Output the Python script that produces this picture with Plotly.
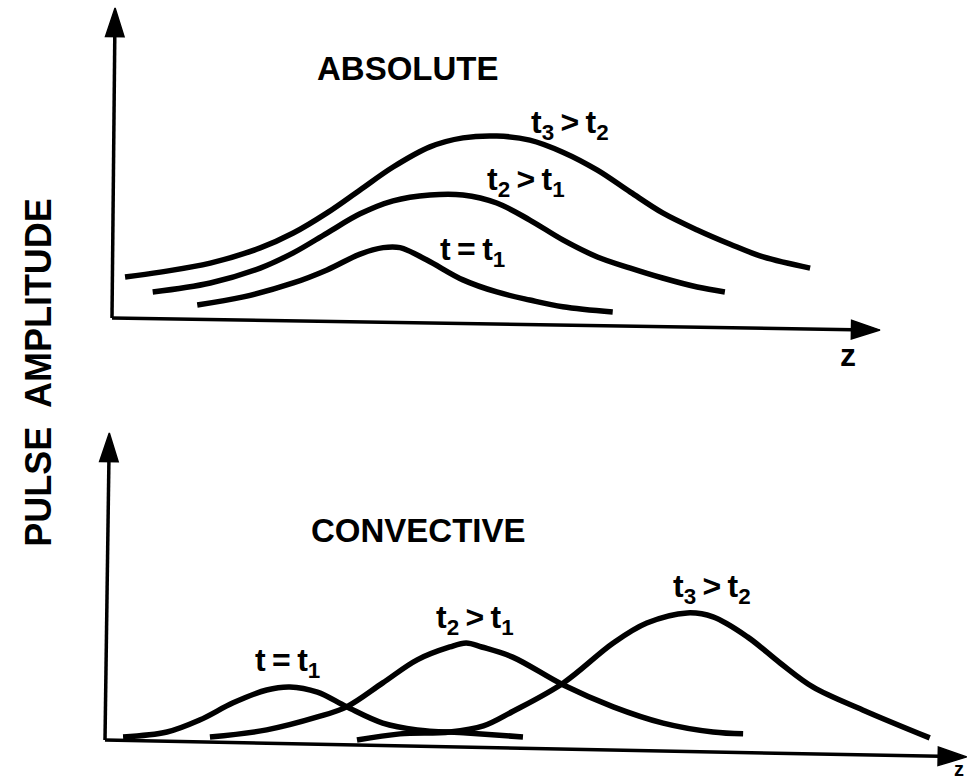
import plotly.graph_objects as go

# ---------------- data: pulse envelopes (z, amplitude) ----------------
# Absolute instability: pulse grows and spreads in both directions
abs_t1_z = [1.11, 1.71, 2.36, 2.80, 3.23, 3.53, 3.75, 4.10, 4.57, 5.01, 5.44, 5.87, 6.52]
abs_t1_a = [0.42, 0.68, 1.13, 1.55, 2.06, 2.27, 2.27, 1.87, 1.23, 0.84, 0.58, 0.36, 0.19]

abs_t2_z = [0.53, 1.28, 1.93, 2.36, 2.80, 3.23, 3.66, 4.14, 4.57, 5.01, 5.44, 5.87, 6.32, 6.75, 7.17, 7.62, 7.98]
abs_t2_a = [0.84, 1.13, 1.61, 2.10, 2.74, 3.36, 3.78, 3.97, 3.97, 3.71, 3.16, 2.52, 1.97, 1.61, 1.29, 1.00, 0.84]

abs_t3_z = [0.17, 0.63, 1.28, 1.93, 2.36, 2.80, 3.23, 3.66, 4.14, 4.57, 5.01, 5.44, 5.87, 6.32,
            6.75, 7.17, 7.62, 8.05, 8.48, 9.09]
abs_t3_a = [1.32, 1.48, 1.77, 2.26, 2.74, 3.39, 4.13, 4.87, 5.52, 5.81, 5.87, 5.74, 5.35, 4.77,
            4.06, 3.39, 2.84, 2.38, 1.97, 1.61]

# Convective instability: pulse grows while it is carried downstream
con_t1_z = [0.21, 0.72, 1.10, 1.49, 1.88, 2.15, 2.47, 2.81, 3.23, 3.63, 4.21, 4.86]
con_t1_a = [0.10, 0.26, 0.65, 1.21, 1.63, 1.73, 1.56, 1.08, 0.55, 0.33, 0.23, 0.10]

con_t2_z = [1.22, 1.88, 2.47, 2.81, 3.23, 3.63, 4.01, 4.20, 4.38, 4.74, 5.33, 5.91, 6.49, 7.07, 7.42]
con_t2_a = [0.10, 0.33, 0.75, 1.08, 1.86, 2.61, 3.03, 3.16, 3.03, 2.70, 1.79, 1.08, 0.55, 0.26, 0.20]

con_t3_z = [2.93, 3.43, 4.01, 4.40, 4.74, 5.33, 5.91, 6.30, 6.77, 7.07, 7.47, 7.85, 8.23, 8.81, 9.59]
con_t3_a = [0.00, 0.20, 0.26, 0.46, 0.93, 1.86, 3.16, 3.81, 4.14, 4.01, 3.36, 2.51, 1.73, 0.98, 0.07]

# curve labels (thin spaces widen the lettering a little)
abs_labels = ["t\u2009=\u2009t<sub>1</sub>", "t<sub>2</sub>\u2009>\u2009t<sub>1</sub>", "t<sub>3</sub>\u2009>\u2009t<sub>2</sub>"]
con_labels = ["t\u2009=\u2009t<sub>1</sub>", "t<sub>2</sub>\u2009>\u2009t<sub>1</sub>", "t<sub>3</sub>\u2009>\u2009t<sub>2</sub>"]

INK = "black"
FONT = "Liberation Sans"

fig = go.Figure()

def curve(zs, amps, xa, ya):
    fig.add_trace(go.Scatter(
        x=zs, y=amps, mode="lines", xaxis=xa, yaxis=ya,
        line=dict(color=INK, width=5.5, shape="spline", smoothing=1.0),
        hoverinfo="skip", showlegend=False,
    ))

for zs, amps in [(abs_t1_z, abs_t1_a), (abs_t2_z, abs_t2_a), (abs_t3_z, abs_t3_a)]:
    curve(zs, amps, "x", "y")
for zs, amps in [(con_t1_z, con_t1_a), (con_t2_z, con_t2_a), (con_t3_z, con_t3_a)]:
    curve(zs, amps, "x2", "y2")

def axis_arrow(xa, ya, tip):
    # axis line from the origin with an arrowhead at the far end
    fig.add_trace(go.Scatter(
        x=[0.0, tip[0]], y=[0.0, tip[1]], mode="lines+markers", xaxis=xa, yaxis=ya,
        line=dict(color=INK, width=3.5),
        marker=dict(symbol=["circle", "arrow"], size=[0, 30], angleref="previous",
                    color=INK, opacity=1, line=dict(color=INK, width=1.5)),
        hoverinfo="skip", showlegend=False, cliponaxis=False,
    ))

axis_arrow("x", "y", (0.04, 10.0))
axis_arrow("x", "y", (10.0, -0.39))
axis_arrow("x2", "y2", (0.05, 10.0))
axis_arrow("x2", "y2", (10.02, -0.55))

ann = []

def label(xref, yref, x, y, text, size):
    ann.append(dict(
        x=x, y=y, xref=xref, yref=yref, text=text, showarrow=False,
        font=dict(family=FONT, size=size, color=INK),
        xanchor="center", yanchor="middle",
    ))

# panel titles
label("x", "y", 3.85, 8.06, "<b>ABSOLUTE</b>", 33)
label("x2", "y2", 3.64, 6.84, "<b>CONVECTIVE</b>", 33)

# curve annotations
for (zx, ay), txt in zip([(4.69, 2.13), (5.39, 4.39), (5.96, 6.25)], abs_labels):
    label("x", "y", zx, ay, "<b>" + txt + "</b>", 32)
for (zx, ay), txt in zip([(2.12, 2.54), (4.30, 3.91), (7.06, 4.92)], con_labels):
    label("x2", "y2", zx, ay, "<b>" + txt + "</b>", 32)

# z axis labels
label("x", "y", 9.58, -1.20, "<b>z</b>", 32)
label("x2", "y2", 9.93, -0.95, "<b>z</b>", 20)

# shared vertical title
ann.append(dict(
    x=0.039, y=0.5255, xref="paper", yref="paper",
    text="<b>PULSE  AMPLITUDE</b>", textangle=-90, showarrow=False,
    font=dict(family=FONT, size=36, color=INK),
    xanchor="center", yanchor="middle",
))

hidden = dict(visible=False, showgrid=False, zeroline=False, fixedrange=True)
fig.update_layout(
    width=969, height=784,
    margin=dict(l=0, r=0, t=0, b=0),
    paper_bgcolor="white", plot_bgcolor="white",
    xaxis=dict(domain=[0, 1], range=[-1.4583, 11.1589], anchor="y", **hidden),
    yaxis=dict(domain=[0.5, 1], range=[-2.387, 10.258], anchor="x", **hidden),
    xaxis2=dict(domain=[0, 1], range=[-1.2209, 10.0465], anchor="y2", **hidden),
    yaxis2=dict(domain=[0, 0.5], range=[-1.433, 11.336], anchor="x2", **hidden),
    annotations=ann,
    showlegend=False,
)

fig.write_html("out.html")
